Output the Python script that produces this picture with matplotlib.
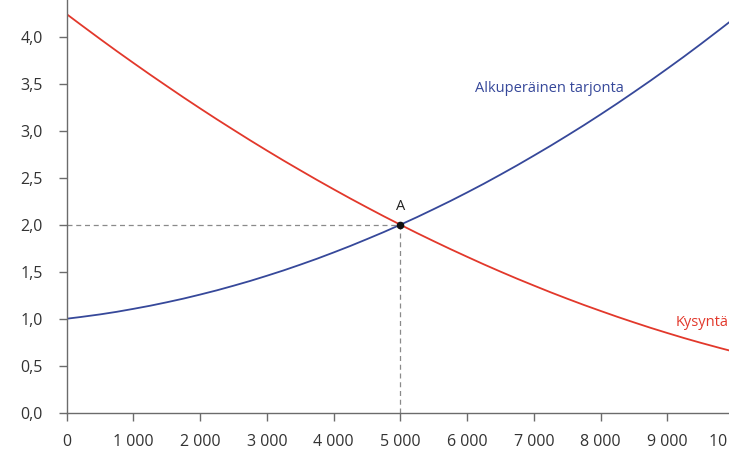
import matplotlib as mpl
import matplotlib.pyplot as plt
from matplotlib.path import Path
from matplotlib.patches import PathPatch

mpl.use('Agg')

# Values (quantity in units, price)
quantity = [0, 500, 1000, 1500, 2000, 2500, 3000, 3500, 4000, 4500, 5000,
            5500, 6000, 6500, 7000, 7500, 8000, 8500, 9000, 9500, 10000]
supply = [1.0, 1.046, 1.105, 1.175, 1.257, 1.351, 1.457, 1.575, 1.705, 1.847, 2.0,
          2.166, 2.343, 2.533, 2.735, 2.948, 3.173, 3.411, 3.660, 3.921, 4.194]
demand = [4.24, 3.976, 3.721, 3.475, 3.237, 3.009, 2.789, 2.579, 2.377, 2.184, 2.0,
          1.825, 1.659, 1.501, 1.353, 1.213, 1.083, 0.961, 0.848, 0.744, 0.649]

eq_q = 5000
eq_p = 2.0

x_ticks = [0, 1000, 2000, 3000, 4000, 5000, 6000, 7000, 8000, 9000, 10000]
x_labels = ['0', '1 000', '2 000', '3 000', '4 000', '5 000', '6 000',
            '7 000', '8 000', '9 000', '10 000']
y_ticks = [0.0, 0.5, 1.0, 1.5, 2.0, 2.5, 3.0, 3.5, 4.0]
y_labels = ['0,0', '0,5', '1,0', '1,5', '2,0', '2,5', '3,0', '3,5', '4,0']

blue = '#36489a'
red = '#e2382b'
axis_col = '#6b6b6b'


def smooth_curve(ax, xs, ys, color):
    # Catmull-Rom through the read points, drawn as cubic Bezier segments
    verts = [(xs[0], ys[0])]
    codes = [Path.MOVETO]
    n = len(xs)
    for i in range(n - 1):
        x0, y0 = xs[max(i - 1, 0)], ys[max(i - 1, 0)]
        x1, y1 = xs[i], ys[i]
        x2, y2 = xs[i + 1], ys[i + 1]
        x3, y3 = xs[min(i + 2, n - 1)], ys[min(i + 2, n - 1)]
        verts.append((x1 + (x2 - x0) / 6, y1 + (y2 - y0) / 6))
        verts.append((x2 - (x3 - x1) / 6, y2 - (y3 - y1) / 6))
        verts.append((x2, y2))
        codes += [Path.CURVE4] * 3
    patch = PathPatch(Path(verts, codes), facecolor='none', edgecolor=color,
                      lw=1.3, capstyle='round')
    ax.add_patch(patch)


plt.rcParams['font.family'] = ['Open Sans', 'DejaVu Sans']

fig = plt.figure(figsize=(7.29, 4.63), dpi=100)
# axes deliberately run past the right and top edges, as in the reference crop
ax = fig.add_axes([0.0915, 0.1086, 0.9154, 0.9136])

smooth_curve(ax, quantity, supply, blue)
smooth_curve(ax, quantity, demand, red)

# equilibrium guides
ax.plot([0, eq_q], [eq_p, eq_p], color='#8a8a8a', lw=0.9, ls=(0, (4, 3)))
ax.plot([eq_q, eq_q], [0, eq_p], color='#8a8a8a', lw=0.9, ls=(0, (4, 3)))
ax.plot([eq_q], [eq_p], 'o', color='#111111', ms=4.5, zorder=5)
ax.annotate('A', (eq_q, eq_p), xytext=(0, 8), textcoords='offset points',
            ha='center', va='bottom', fontsize=10.5, color='#222222')

ax.text(7230, 3.45, 'Alkuperäinen tarjonta', color=blue, fontsize=10.5,
        ha='center', va='center')
ax.text(9915, 0.965, 'Kysyntä', color=red, fontsize=10.5,
        ha='right', va='center')

ax.set_xlim(0, 10000)
ax.set_ylim(0, 4.5)
ax.set_xticks(x_ticks)
ax.set_xticklabels(x_labels)
ax.set_yticks(y_ticks)
ax.set_yticklabels(y_labels)

for side in ['top', 'right']:
    ax.spines[side].set_visible(False)
for side in ['left', 'bottom']:
    ax.spines[side].set_color(axis_col)
    ax.spines[side].set_linewidth(1.0)

ax.tick_params(axis='both', colors=axis_col, length=6, width=1.0,
               labelsize=11.5, labelcolor='#333333')
ax.tick_params(axis='y', pad=11)
ax.tick_params(axis='x', pad=9)

fig.savefig('out.png', dpi=100)
